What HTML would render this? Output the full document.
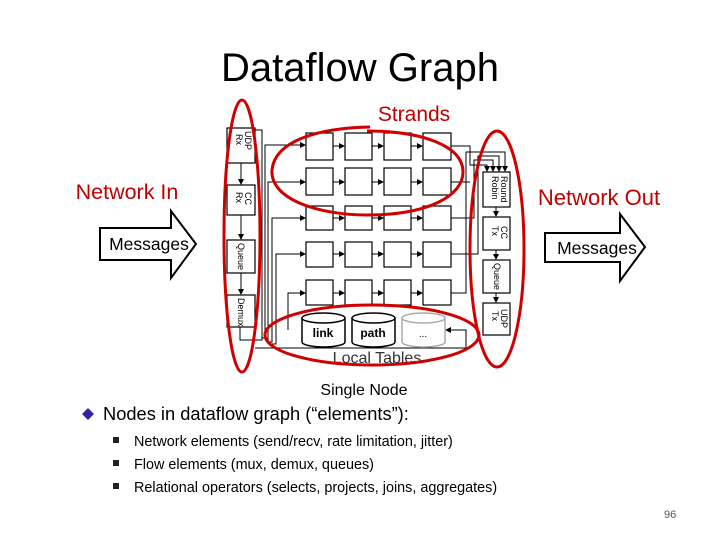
<!DOCTYPE html>
<html><head><meta charset="utf-8"><style>
body{margin:0;background:#fff;}
svg{display:block;}
</style></head><body>
<svg width="720" height="540" xmlns="http://www.w3.org/2000/svg" font-family="Liberation Sans, sans-serif">
<defs><marker id="a" markerWidth="6" markerHeight="6" refX="5" refY="3" orient="auto"><path d="M0,0L6,3L0,6z" fill="#000"/></marker></defs>
<text x="360" y="81" text-anchor="middle" font-size="40" fill="#000">Dataflow Graph</text>
<text x="414" y="121" text-anchor="middle" font-size="21" fill="#c00000">Strands</text>
<text x="127" y="199" text-anchor="middle" font-size="21.5" fill="#c00000">Network In</text>
<text x="599" y="205" text-anchor="middle" font-size="22" fill="#c00000">Network Out</text>
<path d="M100,228H171V211L196,244L171,278V260H100Z" fill="#fff" stroke="#000" stroke-width="2"/>
<text x="149" y="250" text-anchor="middle" font-size="17.5">Messages</text>
<path d="M545,233H620V214L645,247L620,281V262H545Z" fill="#fff" stroke="#000" stroke-width="2"/>
<text x="597" y="254" text-anchor="middle" font-size="17.5">Messages</text>
<g fill="#fff" stroke="#000" stroke-width="1.2">
<rect x="227" y="128" width="28" height="35"/><rect x="227" y="185" width="28" height="30"/>
<rect x="227" y="240" width="28" height="33"/><rect x="227" y="295" width="28" height="32"/>
<rect x="483" y="172" width="27" height="35"/><rect x="483" y="217" width="27" height="33"/>
<rect x="483" y="260" width="27" height="33"/><rect x="483" y="303" width="27" height="32"/>
</g>
<g font-size="9" fill="#000">
<text transform="translate(245,131) rotate(90)">UDP</text><text transform="translate(236,134) rotate(90)">Rx</text>
<text transform="translate(245,192) rotate(90)">CC</text><text transform="translate(236,192) rotate(90)">Rx</text>
<text transform="translate(238,243) rotate(90)">Queue</text>
<text transform="translate(238,298) rotate(90)">Demux</text>
<text transform="translate(501,176) rotate(90)">Round</text><text transform="translate(492,176) rotate(90)">Robin</text>
<text transform="translate(501,226) rotate(90)">CC</text><text transform="translate(492,226) rotate(90)">Tx</text>
<text transform="translate(494,263) rotate(90)">Queue</text>
<text transform="translate(501,309) rotate(90)">UDP</text><text transform="translate(492,311) rotate(90)">Tx</text>
</g>
<g stroke="#000" stroke-width="1" fill="none">
<line x1="241" y1="163" x2="241" y2="184" marker-end="url(#a)"/>
<line x1="241" y1="215" x2="241" y2="239" marker-end="url(#a)"/>
<line x1="241" y1="273" x2="241" y2="294" marker-end="url(#a)"/>
<line x1="496" y1="207" x2="496" y2="216" marker-end="url(#a)"/>
<line x1="496" y1="250" x2="496" y2="259" marker-end="url(#a)"/>
<line x1="496" y1="293" x2="496" y2="302" marker-end="url(#a)"/>
<path d="M255,130H262V340H240V327"/>
<path d="M262,338H265V145H305" marker-end="url(#a)"/>
<path d="M265,340H268V182H305" marker-end="url(#a)"/>
<path d="M268,342H272V218H305" marker-end="url(#a)"/>
<path d="M272,344H276V254H305" marker-end="url(#a)"/>
<path d="M288,330V293H305" marker-end="url(#a)"/>
<path d="M255,348H466V330H446" marker-end="url(#a)"/>
<path d="M451,146H470V165H487V171" marker-end="url(#a)"/>
<path d="M451,182H470"/>
<path d="M451,218H474V160H493V171" marker-end="url(#a)"/>
<path d="M451,254H478V156H499V171" marker-end="url(#a)"/>
<path d="M451,293H466V152H505V171" marker-end="url(#a)"/>
</g>
<g fill="#fff" stroke="#000" stroke-width="1.2">
<rect x="306" y="133" width="27" height="27"/><rect x="345" y="133" width="27" height="27"/><rect x="384" y="133" width="27" height="27"/><rect x="423" y="133" width="28" height="27"/>
<rect x="306" y="168" width="27" height="27"/><rect x="345" y="168" width="27" height="27"/><rect x="384" y="168" width="27" height="27"/><rect x="423" y="168" width="28" height="27"/>
<rect x="306" y="206" width="27" height="24"/><rect x="345" y="206" width="27" height="24"/><rect x="384" y="206" width="27" height="24"/><rect x="423" y="206" width="28" height="24"/>
<rect x="306" y="242" width="27" height="25"/><rect x="345" y="242" width="27" height="25"/><rect x="384" y="242" width="27" height="25"/><rect x="423" y="242" width="28" height="25"/>
<rect x="306" y="280" width="27" height="25"/><rect x="345" y="280" width="27" height="25"/><rect x="384" y="280" width="27" height="25"/><rect x="423" y="280" width="28" height="25"/>
</g>
<g stroke="#000" stroke-width="1">
<line x1="333" y1="146" x2="344" y2="146" marker-end="url(#a)"/><line x1="372" y1="146" x2="383" y2="146" marker-end="url(#a)"/><line x1="411" y1="146" x2="422" y2="146" marker-end="url(#a)"/>
<line x1="333" y1="182" x2="344" y2="182" marker-end="url(#a)"/><line x1="372" y1="182" x2="383" y2="182" marker-end="url(#a)"/><line x1="411" y1="182" x2="422" y2="182" marker-end="url(#a)"/>
<line x1="333" y1="218" x2="344" y2="218" marker-end="url(#a)"/><line x1="372" y1="218" x2="383" y2="218" marker-end="url(#a)"/><line x1="411" y1="218" x2="422" y2="218" marker-end="url(#a)"/>
<line x1="333" y1="254" x2="344" y2="254" marker-end="url(#a)"/><line x1="372" y1="254" x2="383" y2="254" marker-end="url(#a)"/><line x1="411" y1="254" x2="422" y2="254" marker-end="url(#a)"/>
<line x1="333" y1="293" x2="344" y2="293" marker-end="url(#a)"/><line x1="372" y1="293" x2="383" y2="293" marker-end="url(#a)"/><line x1="411" y1="293" x2="422" y2="293" marker-end="url(#a)"/>
</g>
<g stroke-width="1.5" fill="#fff">
<path d="M302,318V342A21.5,5 0 0 0 345,342V318" stroke="#000"/><ellipse cx="323.5" cy="318" rx="21.5" ry="5" stroke="#000"/>
<path d="M352,318V342A21.5,5 0 0 0 395,342V318" stroke="#000"/><ellipse cx="373.5" cy="318" rx="21.5" ry="5" stroke="#000"/>
<path d="M402,318V342A21.5,5 0 0 0 445,342V318" stroke="#aaa"/><ellipse cx="423.5" cy="318" rx="21.5" ry="5" stroke="#aaa"/>
</g>
<text x="323" y="337" text-anchor="middle" font-size="12" font-weight="bold">link</text>
<text x="373" y="337" text-anchor="middle" font-size="12" font-weight="bold">path</text>
<text x="423" y="337" text-anchor="middle" font-size="10">...</text>
<text x="377" y="363" text-anchor="middle" font-size="16" fill="#333">Local Tables</text>
<g fill="none" stroke="#d00000" stroke-width="3">
<ellipse cx="242" cy="236" rx="18" ry="136"/>
<ellipse cx="497" cy="249" rx="27" ry="118"/>
<path d="M370,127C320,128 275,140 272,170C270,200 320,215 367,215C430,215 463,195 463,172C463,145 420,131 367,131"/>
<ellipse cx="372" cy="335" rx="107" ry="30"/>
</g>
<text x="364" y="395" text-anchor="middle" font-size="16">Single Node</text>
<path d="M88,408L94,414L88,420L82,414Z" fill="#3a1ea0"/>
<text x="103" y="420" font-size="18.3">Nodes in dataflow graph (“elements”):</text>
<g fill="#222"><rect x="113" y="437" width="6" height="6"/><rect x="113" y="460" width="6" height="6"/><rect x="113" y="483" width="6" height="6"/></g>
<g font-size="14.4"><text x="134" y="446">Network elements (send/recv, rate limitation, jitter)</text>
<text x="134" y="469">Flow elements (mux, demux, queues)</text>
<text x="134" y="492">Relational operators (selects, projects, joins, aggregates)</text></g>
<text x="664" y="518" font-size="11" fill="#555">96</text>
</svg>
</body></html>
